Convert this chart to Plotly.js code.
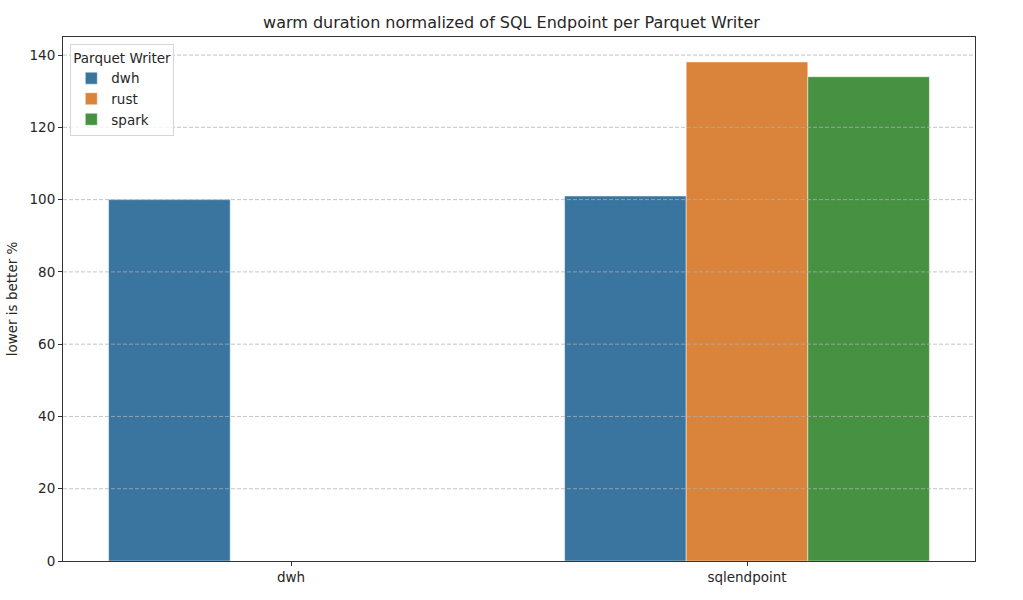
<!DOCTYPE html>
<html>
<head>
<meta charset="utf-8">
<script src="https://cdn.plot.ly/plotly-3.0.1.min.js"></script>
<style>html,body{margin:0;padding:0;background:#fff;}#chart{width:1023px;height:600px;}</style>
</head>
<body>
<div id="chart"></div>
<script>
const categories = ["dwh", "sqlendpoint"];
const writers = ["dwh", "rust", "spark"];
const dwhValues = [100, 101];
const rustValues = [null, 138.1];
const sparkValues = [null, 134.0];
const yTicks = [0, 20, 40, 60, 80, 100, 120, 140];
const colors = ["#3a759f", "#da833a", "#479242"];

const seriesValues = [dwhValues, rustValues, sparkValues];
const traces = writers.map((w, i) => ({
  type: "bar",
  name: w,
  x: categories,
  y: seriesValues[i],
  marker: {color: colors[i], line: {color: "rgba(255,255,255,0.6)", width: 0.8}},
  hoverinfo: "x+y+name"
}));

const shapes = yTicks.filter(v => v > 0).map(v => ({
  type: "line", xref: "paper", yref: "y", x0: 0, x1: 1, y0: v, y1: v,
  layer: "above",
  line: {color: "rgba(176,176,176,0.75)", width: 1, dash: "4px,2px"}
}));

const txt = "#262626";
const layout = {
  width: 1023, height: 600,
  margin: {l: 63, r: 48, t: 37, b: 39},
  paper_bgcolor: "#fff", plot_bgcolor: "#fff",
  font: {family: "DejaVu Sans", size: 13.5, color: txt},
  title: {text: "warm duration normalized of SQL Endpoint per Parquet Writer",
          font: {family: "DejaVu Sans", size: 16, color: txt},
          x: 0.5, xanchor: "center", y: 0.963, yanchor: "middle"},
  barmode: "group", bargap: 0.2, bargroupgap: 0,
  xaxis: {
    type: "category", range: [-0.5, 1.5],
    showline: true, linecolor: "#333", linewidth: 1, mirror: true,
    ticks: "outside", ticklen: 4, tickcolor: "#333",
    showgrid: false, zeroline: false,
    tickfont: {family: "DejaVu Sans", size: 13.5, color: txt}
  },
  yaxis: {
    range: [0, 145.0],
    tickvals: yTicks, ticktext: yTicks.map(String),
    showline: true, linecolor: "#333", linewidth: 1, mirror: true,
    ticks: "outside", ticklen: 4, tickcolor: "#333",
    showgrid: false, zeroline: false,
    tickfont: {family: "DejaVu Sans", size: 13.5, color: txt},
    title: {text: "lower is better %", font: {family: "DejaVu Sans", size: 13.5, color: txt}, standoff: 8}
  },
  legend: {
    x: 0.008, y: 0.986, xanchor: "left", yanchor: "top",
    bgcolor: "rgba(255,255,255,0.8)", bordercolor: "#d6d6d6", borderwidth: 1,
    title: {text: "Parquet Writer", font: {family: "DejaVu Sans", size: 13.5, color: txt}},
    font: {family: "DejaVu Sans", size: 13.5, color: txt},
    traceorder: "normal"
  },
  shapes: shapes,
  showlegend: true
};

Plotly.newPlot("chart", traces, layout, {displayModeBar: false, staticPlot: true});
</script>
</body>
</html>
